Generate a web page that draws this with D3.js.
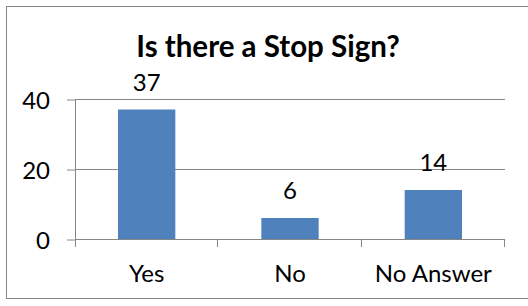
<!DOCTYPE html>
<html>
<head>
<meta charset="utf-8">
<script src="https://cdn.jsdelivr.net/npm/d3@7"></script>
<style>
  body { margin: 0; background: #fff; }
  svg { display: block; font-family: Lato, "Open Sans", sans-serif; }
</style>
</head>
<body>
<svg width="528" height="306"></svg>
<script>
// chart data
var categories = ["Yes", "No", "No Answer"]
var counts = [37, 6, 14]
var yTicks = [0, 20, 40]
var chartTitle = "Is there a Stop Sign?"

var svg = d3.select("svg")
// NB: "top" is taken by window.top, so plot edges get their own names
var plotLeft = 75, plotRight = 505, plotTop = 99, plotBottom = 239
var gray = "#868686"
var labelSize = 24

// outer frame (right side runs off the picture)
svg.append("rect")
    .attr("x", 6.5).attr("y", 6.5)
    .attr("width", 530).attr("height", 292)
    .attr("fill", "none").attr("stroke", gray)

svg.append("text")
    .attr("x", 268).attr("y", 56.5)
    .attr("text-anchor", "middle")
    .attr("font-weight", "bold")
    .attr("font-size", 29.5)
    .attr("fill", "#000")
    .text(chartTitle)

var xScale = d3.scaleBand()
    .domain(categories)
    .range([plotLeft, plotRight])
    .paddingInner(0.6)
    .paddingOuter(0.3)

var yScale = d3.scaleLinear().domain([0, 40]).range([plotBottom, plotTop])

// y ticks + labels
var yAxis = svg.append("g")
    .attr("transform", "translate(" + plotLeft + ",0.5)")
    .call(d3.axisLeft(yScale).tickValues(yTicks).tickSize(8).tickPadding(17).tickFormat(d3.format("d")))
yAxis.select(".domain").remove()
yAxis.selectAll(".tick line").attr("stroke", gray)
yAxis.selectAll(".tick text")
    .attr("font-size", labelSize)
    .attr("font-family", "Lato, sans-serif")
    .attr("fill", "#000")
    .attr("dy", "0.36em")

// gridlines
svg.append("g").selectAll("line")
    .data(yTicks)
    .enter().append("line")
    .attr("x1", plotLeft).attr("x2", plotRight)
    .attr("y1", function(d) { return yScale(d) + 0.5 })
    .attr("y2", function(d) { return yScale(d) + 0.5 })
    .attr("stroke", gray)

// y axis line
svg.append("line")
    .attr("x1", plotLeft + 0.5).attr("x2", plotLeft + 0.5)
    .attr("y1", plotTop).attr("y2", plotBottom + 8)
    .attr("stroke", gray)

// category boundary ticks
var bounds = d3.range(categories.length + 1).map(function(i) { return plotLeft + i * xScale.step() })
svg.append("g").selectAll("line")
    .data(bounds.slice(1))
    .enter().append("line")
    .attr("x1", function(d) { return Math.round(d) - 0.5 })
    .attr("x2", function(d) { return Math.round(d) - 0.5 })
    .attr("y1", plotBottom).attr("y2", plotBottom + 8)
    .attr("stroke", gray)

// bars
svg.selectAll("rect.bar")
    .data(counts)
    .enter().append("rect")
    .attr("class", "bar")
    .attr("x", function(d, i) { return xScale(categories[i]) })
    .attr("y", function(d) { return yScale(d) })
    .attr("width", xScale.bandwidth())
    .attr("height", function(d) { return yScale(0) - yScale(d) })
    .attr("fill", "#4F81BD")

// value labels
svg.selectAll("text.val")
    .data(counts)
    .enter().append("text")
    .attr("class", "val")
    .attr("x", function(d, i) { return xScale(categories[i]) + xScale.bandwidth() / 2 })
    .attr("y", function(d) { return yScale(d) - 19 })
    .attr("text-anchor", "middle")
    .attr("font-size", labelSize)
    .text(function(d) { return d })

// category labels
var xAxis = svg.append("g")
    .attr("transform", "translate(0," + plotBottom + ")")
    .call(d3.axisBottom(xScale).tickSize(0).tickPadding(0))
xAxis.select(".domain").remove()
xAxis.selectAll(".tick text")
    .attr("font-size", labelSize)
    .attr("font-family", "Lato, sans-serif")
    .attr("fill", "#000")
    .attr("y", 43)
    .attr("dy", 0)
</script>
</body>
</html>
